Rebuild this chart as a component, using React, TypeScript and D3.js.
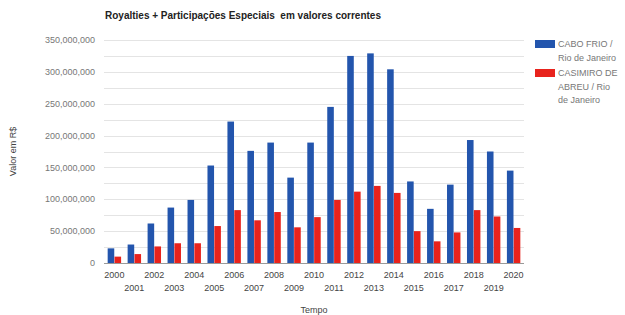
import React, { useRef, useEffect } from "react";
import * as d3 from "d3";

const years = [
  "2000", "2001", "2002", "2003", "2004", "2005", "2006", "2007", "2008", "2009", "2010",
  "2011", "2012", "2013", "2014", "2015", "2016", "2017", "2018", "2019", "2020",
];
const caboFrio = [
  23, 29, 62, 87, 99, 153, 222, 176, 189, 134, 189,
  245, 325, 329, 304, 128, 85, 123, 193, 175, 145,
].map((v) => v * 1e6);
const casimiro = [
  10, 14, 26, 31, 31, 58, 83, 67, 80, 56, 72,
  99, 112, 121, 110, 50, 34, 48, 83, 73, 55,
].map((v) => v * 1e6);
const seriesNames = ["CABO FRIO /|Rio de Janeiro", "CASIMIRO DE|ABREU / Rio|de Janeiro"];
const seriesColors = ["#2355ad", "#e8231d"];
const yTicks = [0, 50, 100, 150, 200, 250, 300, 350].map((v) => v * 1e6);

const W = 625;
const H = 315;
const margin = { left: 104, right: 101, top: 40, bottom: 52 };

export default function App() {
  const svgRef = useRef<SVGSVGElement>(null);

  useEffect(() => {
    const svg = d3.select(svgRef.current);
    svg.selectAll("*").remove();
    const font = "Arial, 'Liberation Sans', sans-serif";

    const x0 = d3.scaleBand().domain(years).range([margin.left, W - margin.right]).paddingInner(0.3).paddingOuter(0.17);
    const x1 = d3.scaleBand().domain(["a", "b"]).range([0, x0.bandwidth()]).padding(0.04);
    const y = d3.scaleLinear().domain([0, 350e6]).range([H - margin.bottom, margin.top]);

    // gridlines (every 25M)
    const grid = d3.range(0, 350e6 + 1, 25e6);
    svg.append("g")
      .selectAll("line")
      .data(grid)
      .join("line")
      .attr("x1", margin.left)
      .attr("x2", W - margin.right)
      .attr("y1", (d) => Math.round(y(d)) + 0.5)
      .attr("y2", (d) => Math.round(y(d)) + 0.5)
      .attr("stroke", (d) => (d === 0 ? "#999" : "#e4e4e4"))
      .attr("stroke-width", 1);

    // y axis labels
    svg.append("g")
      .selectAll("text")
      .data(yTicks)
      .join("text")
      .attr("x", 95)
      .attr("y", (d) => y(d))
      .attr("dy", "0.35em")
      .attr("text-anchor", "end")
      .attr("font-family", font)
      .attr("font-size", 9)
      .attr("fill", "#777")
      .text((d) => d3.format(",")(d));

    // bars
    const groups = svg.append("g")
      .selectAll("g")
      .data(years)
      .join("g")
      .attr("transform", (d) => `translate(${x0(d)},0)`);

    groups.append("rect")
      .attr("x", x1("a")!)
      .attr("width", x1.bandwidth())
      .attr("y", (d, i) => y(caboFrio[i]))
      .attr("height", (d, i) => y(0) - y(caboFrio[i]))
      .attr("fill", seriesColors[0]);

    groups.append("rect")
      .attr("x", x1("b")!)
      .attr("width", x1.bandwidth())
      .attr("y", (d, i) => y(casimiro[i]))
      .attr("height", (d, i) => y(0) - y(casimiro[i]))
      .attr("fill", seriesColors[1]);

    // x labels, alternating rows
    svg.append("g")
      .selectAll("text")
      .data(years)
      .join("text")
      .attr("x", (d) => x0(d)! + x0.bandwidth() / 2)
      .attr("y", (d, i) => (i % 2 === 0 ? 278 : 291))
      .attr("text-anchor", "middle")
      .attr("font-family", font)
      .attr("font-size", 9)
      .attr("fill", "#444")
      .text((d) => d);

    // axis titles
    svg.append("text")
      .attr("x", (margin.left + W - margin.right) / 2)
      .attr("y", 313)
      .attr("text-anchor", "middle")
      .attr("font-family", font)
      .attr("font-size", 9)
      .attr("fill", "#444")
      .text("Tempo");

    svg.append("text")
      .attr("transform", `translate(16,${(margin.top + H - margin.bottom) / 2}) rotate(-90)`)
      .attr("text-anchor", "middle")
      .attr("font-family", font)
      .attr("font-size", 9)
      .attr("fill", "#444")
      .text("Valor em R$");

    // title
    svg.append("text")
      .attr("x", 105)
      .attr("y", 19)
      .attr("font-family", font)
      .attr("font-size", 10)
      .attr("font-weight", "bold")
      .attr("fill", "#222")
      .attr("xml:space", "preserve")
      .text("Royalties + Participações Especiais  em valores correntes");

    // legend
    const legendTop = [40, 69];
    seriesNames.forEach((name, i) => {
      const g = svg.append("g").attr("transform", `translate(535,${legendTop[i]})`);
      g.append("rect").attr("width", 20).attr("height", 8).attr("fill", seriesColors[i]);
      name.split("|").forEach((line, j) => {
        g.append("text")
          .attr("x", 23)
          .attr("y", 7 + j * 13.5)
          .attr("font-family", font)
          .attr("font-size", 9)
          .attr("fill", "#777")
          .text(line);
      });
    });
  }, []);

  return (
    <svg ref={svgRef} width={W} height={H} style={{ position: "absolute", left: 0, top: 0, background: "#fff" }} />
  );
}
